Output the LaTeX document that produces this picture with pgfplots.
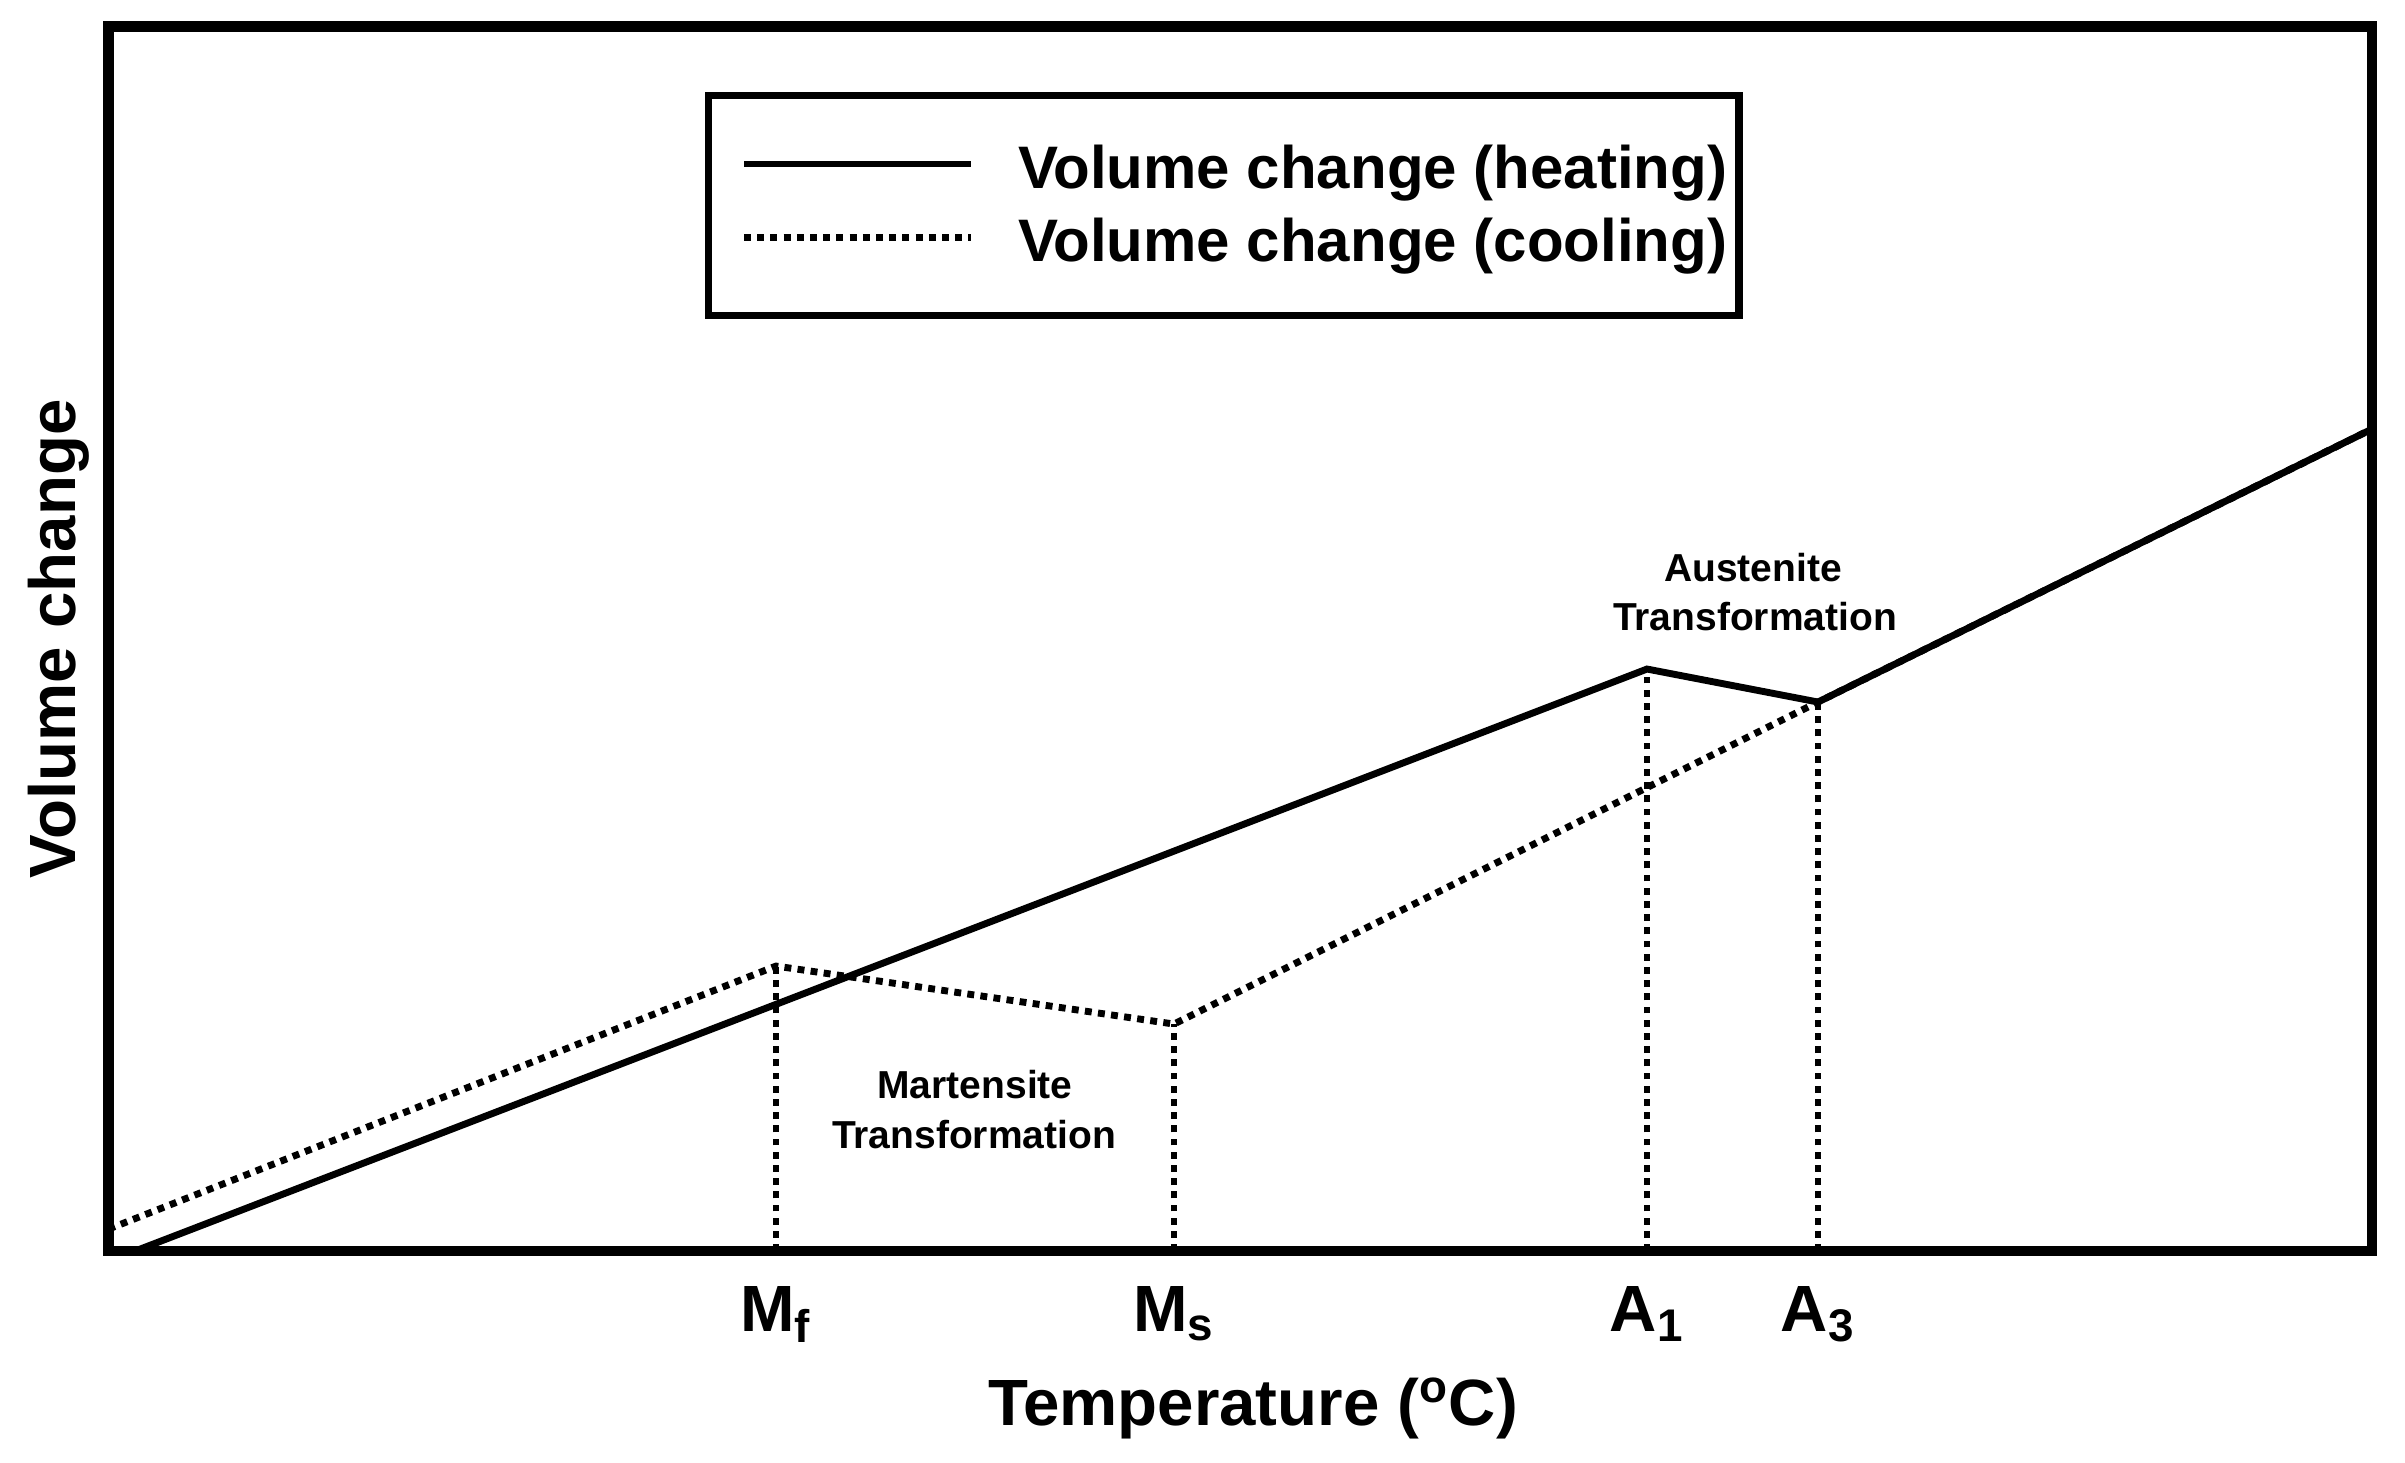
\documentclass[border=0pt]{standalone}
\usepackage{fontspec}
\setmainfont{Liberation Sans}
\usepackage{pgfplots}
\pgfplotsset{compat=1.18}

\pgfplotsset{
  heat/.style={black, line width=2.3pt, solid},
  cool/.style={black, line width=2.3pt, dash pattern=on 2.3pt off 2.1pt},
}

\begin{document}
\begin{tikzpicture}
\begin{axis}[
    scale only axis,
    width=754.5pt, height=408.2pt,
    xmin=108.5, xmax=2372, ymin=0, ymax=1224.5,
    axis line style={line width=3.6pt},
    xtick={776,1174,1647,1818},
    xticklabels={M\textsubscript{f},M\textsubscript{s},A\textsubscript{1},A\textsubscript{3}},
    ytick=\empty,
    major tick length=0pt,
    xticklabel style={font=\fontsize{21.8}{26}\selectfont\bfseries, anchor=base, yshift=-26.7pt},
    xlabel={Temperature (\textsuperscript{o}C)},
    ylabel={Volume change},
    label style={font=\fontsize{21.8}{26}\selectfont\bfseries},
    xlabel style={at={(axis description cs:0.5056,-0.1421)}, anchor=base},
    ylabel style={at={(axis description cs:-0.0148,0.5)}, anchor=base},
    legend cell align=left,
    legend image code/.code={\path (0pt,0pt); \draw[#1] (6.7pt,1.6pt) -- (82.4pt,1.6pt);},
    legend style={
      at={(axis description cs:0.2634,0.9469)}, anchor=north west,
      draw=black, line width=2.5pt, fill=white,
      font=\fontsize{20}{24}\selectfont\bfseries,
      inner xsep=4pt, inner ysep=16.5pt,
      row sep=8.4pt, column sep=14.5pt,
      nodes={inner sep=0pt},
    },
]
% heating
\addplot[heat] coordinates {(135,0) (1647,582) (1818,549) (2372,822)};
\addlegendentry{Volume change (heating)}
% cooling
\addplot[cool] coordinates {(108.5,22) (776,285) (1174,227) (1818,549) (2372,822)};
\addlegendentry{Volume change (cooling)}

% drop lines to the axis
\addplot[cool, forget plot] coordinates {(776,0) (776,285)};
\addplot[cool, forget plot] coordinates {(1174,0) (1174,227)};
\addplot[cool, forget plot] coordinates {(1647,0) (1647,582)};
\addplot[cool, forget plot] coordinates {(1818,0) (1818,549)};

\node[font=\fontsize{13}{16}\selectfont\bfseries, anchor=base] at (axis cs:975,153) {Martensite};
\node[font=\fontsize{13}{16}\selectfont\bfseries, anchor=base] at (axis cs:974,103) {Transformation};
\node[font=\fontsize{13}{16}\selectfont\bfseries, anchor=base] at (axis cs:1753,670) {Austenite};
\node[font=\fontsize{13}{16}\selectfont\bfseries, anchor=base] at (axis cs:1755,621) {Transformation};
\end{axis}
\path[use as bounding box] ([xshift=-36.17pt,yshift=-70.33pt]current axis.south west)
  rectangle ([xshift=11pt,yshift=8.83pt]current axis.north east);
\end{tikzpicture}
\end{document}
